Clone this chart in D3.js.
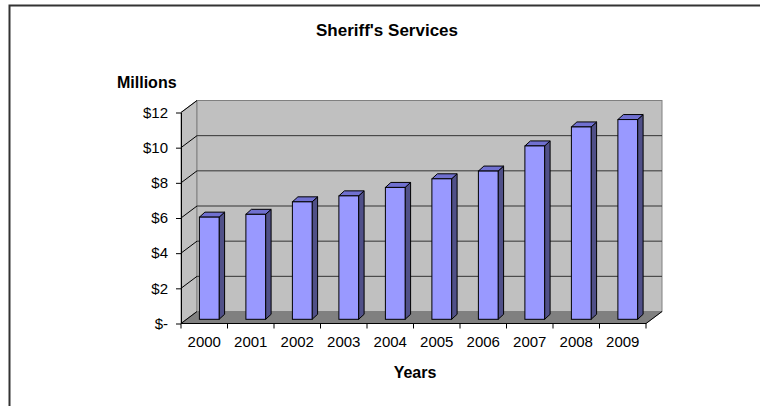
<!DOCTYPE html>
<html>
<head>
<meta charset="utf-8">
<script src="https://cdn.jsdelivr.net/npm/d3@7"></script>
<style>
  body { margin: 0; background: #fff; }
  text { font-family: Arial, "Liberation Sans", sans-serif; fill: #000; }
</style>
</head>
<body>
<div id="chart"></div>
<script>
// data (millions of dollars)
var years = ["2000", "2001", "2002", "2003", "2004", "2005", "2006", "2007", "2008", "2009"];
var spending = [5.81, 5.97, 6.68, 7.02, 7.5, 7.99, 8.43, 9.86, 10.94, 11.36];
var yTicks = [0, 2, 4, 6, 8, 10, 12];
var yTickLabels = ["$-", "$2", "$4", "$6", "$8", "$10", "$12"];

var W = 760, H = 406;

var svg = d3.select("#chart").append("svg")
    .attr("width", W)
    .attr("height", H);

// chart area frame (only left and top edges show)
svg.append("path")
    .attr("d", "M9.5,410V5.5H770")
    .attr("fill", "none")
    .attr("stroke", "#333")
    .attr("stroke-width", 2);

// front plane of the 3d plot
var plot = { left: 181, right: 646, top: 112.5, bottom: 323.5 };
var depth = { dx: 16, dy: -12 };       // wall depth
var barOff = { dx: 5, dy: -4.2 };      // bar front face inside the depth
var barDepth = { dx: 5.5, dy: -5 };    // bar thickness

var x = d3.scaleBand()
    .domain(years)
    .range([plot.left, plot.right])
    .paddingInner(0.576)
    .paddingOuter(0.288);

var y = d3.scaleLinear()
    .domain([0, 12])
    .range([plot.bottom, plot.top]);

function pts(a) { return a.map(function(p){ return p.join(","); }).join(" "); }

var y0 = y(0), yMax = y(12);

// side wall
svg.append("polygon")
    .attr("points", pts([[plot.left, yMax], [plot.left + depth.dx, yMax + depth.dy],
        [plot.left + depth.dx, y0 + depth.dy], [plot.left, y0]]))
    .attr("fill", "#c0c0c0")
    .attr("stroke", "#808080");

// back wall
svg.append("rect")
    .attr("x", plot.left + depth.dx)
    .attr("y", yMax + depth.dy)
    .attr("width", plot.right - plot.left)
    .attr("height", y0 - yMax)
    .attr("fill", "#c0c0c0")
    .attr("stroke", "#808080");

// floor
svg.append("polygon")
    .attr("points", pts([[plot.left, y0], [plot.right, y0],
        [plot.right + depth.dx, y0 + depth.dy], [plot.left + depth.dx, y0 + depth.dy]]))
    .attr("fill", "#808080")
    .attr("stroke", "#808080");

// gridlines on back wall + diagonals on side wall
var grid = yTicks.filter(function(d){ return d > 0 && d < 12; });
svg.selectAll(".grid-back")
    .data(grid).enter()
    .append("line")
    .attr("class", "grid-back")
    .attr("x1", plot.left + depth.dx)
    .attr("x2", plot.right + depth.dx)
    .attr("y1", function(d){ return y(d) + depth.dy; })
    .attr("y2", function(d){ return y(d) + depth.dy; })
    .attr("stroke", "#333")
    .attr("stroke-width", 1);

svg.selectAll(".grid-side")
    .data(yTicks).enter()
    .append("line")
    .attr("class", "grid-side")
    .attr("x1", plot.left)
    .attr("x2", plot.left + depth.dx)
    .attr("y1", function(d){ return y(d); })
    .attr("y2", function(d){ return y(d) + depth.dy; })
    .attr("stroke", "#000")
    .attr("stroke-width", 1);

// bars
var bars = svg.selectAll(".bar")
    .data(years.map(function(d, i){ return { year: d, value: spending[i] }; }))
    .enter().append("g")
    .attr("class", "bar");

var bw = x.bandwidth();

function fx(d) { return x(d.year) + barOff.dx; }
function ft(d) { return y(d.value) + barOff.dy; }
var fb = y0 + barOff.dy;

bars.append("polygon")
    .attr("points", function(d){
        var l = fx(d) + bw, t = ft(d);
        return pts([[l, t], [l + barDepth.dx, t + barDepth.dy],
            [l + barDepth.dx, fb + barDepth.dy], [l, fb]]);
    })
    .attr("fill", "#505088")
    .attr("stroke", "#000")
    .attr("stroke-linejoin", "round");

bars.append("polygon")
    .attr("points", function(d){
        var l = fx(d), t = ft(d);
        return pts([[l, t], [l + barDepth.dx, t + barDepth.dy],
            [l + bw + barDepth.dx, t + barDepth.dy], [l + bw, t]]);
    })
    .attr("fill", "#7070d0")
    .attr("stroke", "#000")
    .attr("stroke-linejoin", "round");

bars.append("rect")
    .attr("x", fx)
    .attr("y", ft)
    .attr("width", bw)
    .attr("height", function(d){ return fb - ft(d); })
    .attr("fill", "#9999ff")
    .attr("stroke", "#000");

// y axis
var yAxis = d3.axisLeft(y)
    .tickValues(yTicks)
    .tickSize(5)
    .tickSizeOuter(0)
    .tickPadding(8)
    .tickFormat(function(d, i){ return yTickLabels[i]; });

var yg = svg.append("g")
    .attr("transform", "translate(" + plot.left + ",0)")
    .call(yAxis);
yg.selectAll("text").style("font-size", "15px").attr("font-family", null);
yg.selectAll("line, path").attr("stroke", "#000");

// x axis: line along front edge of floor, ticks between categories
var xg = svg.append("g");
xg.append("line")
    .attr("x1", plot.left).attr("x2", plot.right)
    .attr("y1", y0).attr("y2", y0)
    .attr("stroke", "#000");
xg.append("line")
    .attr("x1", plot.right).attr("x2", plot.right + depth.dx)
    .attr("y1", y0).attr("y2", y0 + depth.dy)
    .attr("stroke", "#000");
xg.selectAll(".xtick")
    .data(d3.range(years.length + 1)).enter()
    .append("line")
    .attr("class", "xtick")
    .attr("x1", function(i){ return plot.left + i * x.step(); })
    .attr("x2", function(i){ return plot.left + i * x.step(); })
    .attr("y1", y0).attr("y2", y0 + 5)
    .attr("stroke", "#000");
xg.selectAll(".xlabel")
    .data(years).enter()
    .append("text")
    .attr("class", "xlabel")
    .attr("x", function(d){ return x(d) + bw / 2; })
    .attr("y", 347)
    .attr("text-anchor", "middle")
    .style("font-size", "15px")
    .text(function(d){ return d; });

// titles
svg.append("text")
    .attr("x", 387)
    .attr("y", 36)
    .attr("text-anchor", "middle")
    .style("font-size", "17px")
    .style("font-weight", "bold")
    .text("Sheriff's Services");

svg.append("text")
    .attr("x", 117)
    .attr("y", 88)
    .style("font-size", "16px")
    .style("font-weight", "bold")
    .text("Millions");

svg.append("text")
    .attr("x", 415)
    .attr("y", 378)
    .attr("text-anchor", "middle")
    .style("font-size", "16px")
    .style("font-weight", "bold")
    .text("Years");
</script>
</body>
</html>
